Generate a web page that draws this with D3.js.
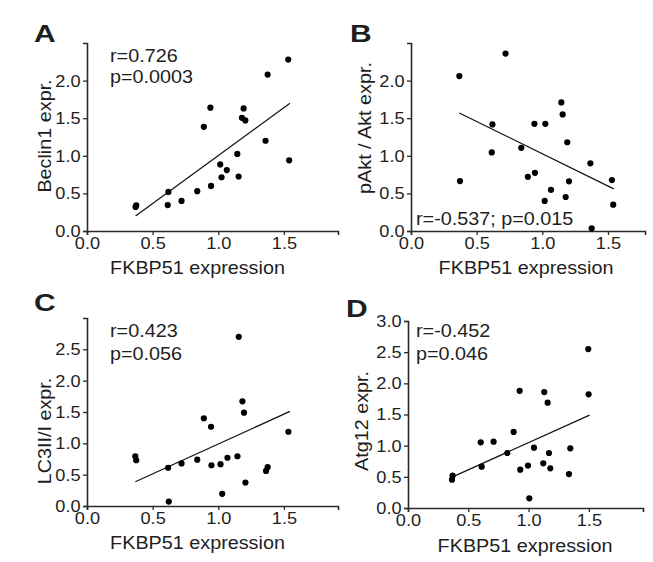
<!DOCTYPE html>
<html>
<head>
<meta charset="utf-8">
<script src="https://cdn.jsdelivr.net/npm/d3@7"></script>
<style>
  html, body { margin: 0; padding: 0; background: #fff; }
  svg { display: block; }
  text { font-family: "Liberation Sans", Arial, sans-serif; fill: #1e1e1e; }
</style>
</head>
<body>
<svg id="chart" width="653" height="562"></svg>
<script>
// ---- Data ----
const panelLetters = ["A", "B", "C", "D"];
const yTitles = ["Beclin1 expr.", "pAkt / Akt expr.", "LC3II/I expr.", "Atg12 expr."];
const xTitle = "FKBP51 expression";
const statLabels = [["r=0.726", "p=0.0003"], ["r=-0.537; p=0.015"], ["r=0.423", "p=0.056"], ["r=-0.452", "p=0.046"]];
const xTickValues = [0, 0.5, 1.0, 1.5];
const yTicksAB = [0, 0.5, 1.0, 1.5, 2.0];
const yTicksC = [0, 0.5, 1.0, 1.5, 2.0, 2.5];
const yTicksD = [0, 0.5, 1.0, 1.5, 2.0, 2.5, 3.0];

const xA = [0.37, 0.62, 0.615, 0.72, 0.84, 0.89, 0.94, 0.945, 1.015, 1.025, 1.065, 1.145, 1.155, 1.18, 1.193, 1.206, 1.36, 1.376, 1.533, 1.54, 0.375];
const yA = [0.32, 0.52, 0.345, 0.40, 0.53, 1.385, 1.64, 0.60, 0.885, 0.715, 0.81, 1.025, 0.725, 1.505, 1.63, 1.47, 1.20, 2.08, 2.28, 0.94, 0.34];
const fitA = [[0.37, 0.20], [1.546, 1.70]];

const xB = [0.368, 0.373, 0.62, 0.615, 0.72, 0.84, 0.89, 0.94, 0.944, 1.018, 1.023, 1.066, 1.145, 1.155, 1.178, 1.19, 1.203, 1.366, 1.376, 1.53, 1.54];
const yB = [2.06, 0.664, 1.417, 1.045, 2.36, 1.106, 0.72, 1.425, 0.774, 0.40, 1.425, 0.548, 1.71, 1.55, 0.452, 1.18, 0.66, 0.90, 0.035, 0.677, 0.35];
const fitB = [[0.368, 1.57], [1.544, 0.56]];

const xC = [0.368, 0.375, 0.618, 0.623, 0.72, 0.84, 0.89, 0.945, 0.948, 1.017, 1.03, 1.07, 1.146, 1.156, 1.184, 1.196, 1.207, 1.364, 1.376, 1.534];
const yC = [0.794, 0.73, 0.61, 0.07, 0.68, 0.74, 1.40, 1.265, 0.65, 0.667, 0.195, 0.77, 0.794, 2.70, 1.67, 1.49, 0.375, 0.56, 0.62, 1.185];
const fitC = [[0.368, 0.386], [1.546, 1.51]];

const xD = [0.365, 0.37, 0.603, 0.611, 0.71, 0.824, 0.876, 0.926, 0.931, 0.995, 1.006, 1.045, 1.122, 1.13, 1.158, 1.169, 1.18, 1.335, 1.346, 1.495, 1.498];
const yD = [0.454, 0.518, 1.054, 0.663, 1.064, 0.882, 1.22, 1.88, 0.615, 0.68, 0.155, 0.968, 0.717, 1.86, 1.69, 0.882, 0.637, 0.545, 0.958, 2.55, 1.824];
const fitD = [[0.37, 0.50], [1.506, 1.49]];

// ---- Layout (pixels) ----
const layout = [
  { x0: 87,  x1: 338, xMax: 1.912, yBot: 231, yTop: 43,  yMax: 2.5, yTicks: yTicksAB, xs: xA, ys: yA, fit: fitA,
    letter: [34, 42], ytl: [50.5, 136], xtl: [197.5, 274], stat: [110, 62, 21] },
  { x0: 411, x1: 645, xMax: 1.782, yBot: 231, yTop: 43,  yMax: 2.5, yTicks: yTicksAB, xs: xB, ys: yB, fit: fitB,
    letter: [350, 42], ytl: [370.5, 128], xtl: [526, 274], stat: [416, 225, 21] },
  { x0: 87,  x1: 338, xMax: 1.912, yBot: 506, yTop: 318, yMax: 3.0, yTicks: yTicksC, xs: xC, ys: yC, fit: fitC,
    letter: [34, 311], ytl: [51, 431], xtl: [197.5, 549], stat: [110, 337, 23] },
  { x0: 408, x1: 643, xMax: 1.949, yBot: 508, yTop: 321, yMax: 3.0, yTicks: yTicksD, xs: xD, ys: yD, fit: fitD,
    letter: [346, 317], ytl: [368, 421], xtl: [525, 552], stat: [416, 337, 23] }
];

const svg = d3.select("#chart");
const fmt = d3.format(".1f");
const axisColor = "#2a2a2a";
const SX = 1.07; // the reference text is slightly wide

function stretchedText(g, x, y, str, size, opts = {}) {
  const t = g.append("text")
    .attr("transform", `translate(${x},${y}) ${opts.rotate ? "rotate(-90) " : ""}scale(${opts.sx || SX},1)`)
    .attr("font-size", size)
    .text(str);
  if (opts.anchor) t.attr("text-anchor", opts.anchor);
  if (opts.bold) t.attr("font-weight", "bold").attr("fill", "#111");
  return t;
}

layout.forEach((p, i) => {
  const x = d3.scaleLinear().domain([0, p.xMax]).range([p.x0, p.x1]);
  const y = d3.scaleLinear().domain([0, p.yMax]).range([p.yBot, p.yTop]);
  const g = svg.append("g");

  const gx = g.append("g").attr("transform", `translate(0,${p.yBot})`)
    .call(d3.axisBottom(x).tickValues(xTickValues).tickFormat(fmt).tickSizeOuter(0).tickSize(4).tickPadding(2));
  const gy = g.append("g").attr("transform", `translate(${p.x0},0)`)
    .call(d3.axisLeft(y).tickValues(p.yTicks).tickFormat(fmt).tickSizeOuter(0).tickSize(4).tickPadding(2));
  [gx, gy].forEach(a => {
    a.select(".domain").attr("stroke", axisColor).attr("stroke-width", 1.6);
    a.selectAll(".tick line").attr("stroke", axisColor).attr("stroke-width", 1.3);
    a.selectAll(".tick text").attr("font-size", 17).attr("fill", "#1e1e1e")
      .attr("transform", `scale(${SX},1)`)
      .style("font-family", '"Liberation Sans", Arial, sans-serif');
  });

  g.append("line")
    .attr("x1", x(p.fit[0][0])).attr("y1", y(p.fit[0][1]))
    .attr("x2", x(p.fit[1][0])).attr("y2", y(p.fit[1][1]))
    .attr("stroke", "#111").attr("stroke-width", 1.2);

  g.selectAll("circle.pt").data(d3.range(p.xs.length)).join("circle")
    .attr("class", "pt")
    .attr("cx", k => x(p.xs[k])).attr("cy", k => y(p.ys[k]))
    .attr("r", 3.1).attr("fill", "#000");

  stretchedText(g, p.letter[0], p.letter[1], panelLetters[i], 24, { bold: true, sx: 1.25 });
  stretchedText(g, p.ytl[0], p.ytl[1], yTitles[i], 18.5, { rotate: true, anchor: "middle" });
  stretchedText(g, p.xtl[0], p.xtl[1], xTitle, 18.5, { anchor: "middle" });
  statLabels[i].forEach((s, j) => {
    stretchedText(g, p.stat[0], p.stat[1] + j * p.stat[2], s, 18.5);
  });
});
</script>
</body>
</html>
